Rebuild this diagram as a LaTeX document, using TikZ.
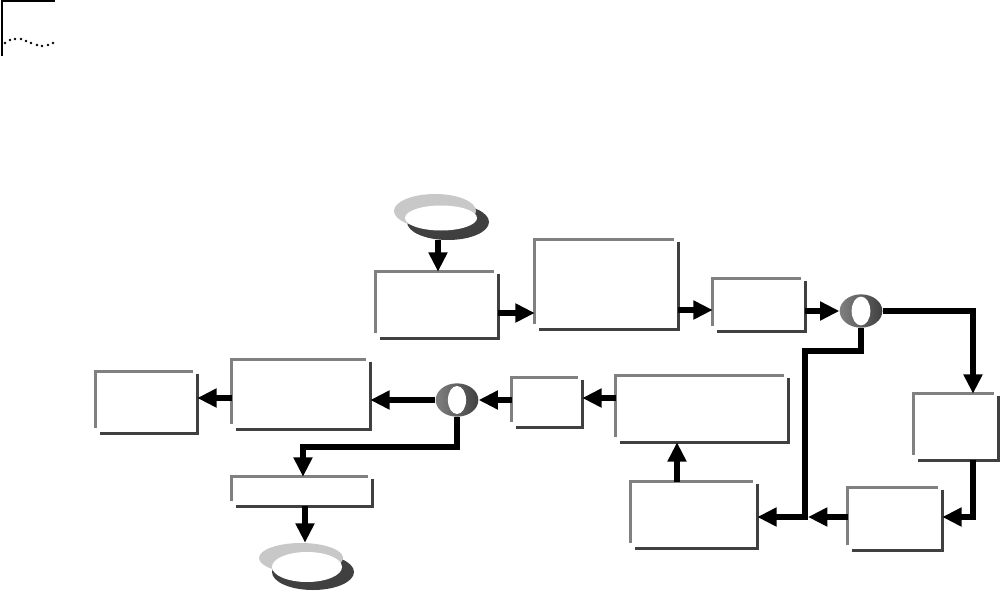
\documentclass[tikz,border=0pt]{standalone}
\usetikzlibrary{fit,arrows.meta,shapes.geometric}
\definecolor{edgegray}{HTML}{808080}
\definecolor{edgedark}{HTML}{404040}
\definecolor{termlight}{HTML}{C8C8C8}
\newcommand\shbox[5]{%
  \coordinate (#1-a) at (#2,#3);
  \coordinate (#1-b) at (#4,#5);
  \node[fit=(#1-a)(#1-b), inner sep=0pt, draw=none] (#1) {};
  \draw[edgeL] ([yshift=4pt]#1.south west) -- (#1.north west) -- ([xshift=-3pt]#1.north east);
  \draw[edgeD] ([yshift=-1.5pt]#1.north east) -- (#1.south east) -- ([xshift=3pt]#1.south west);
}
\begin{document}
\begin{tikzpicture}[x=0.75pt,y=-0.75pt,
  edgeL/.style={draw=edgegray,line width=2.5pt,line join=miter},
  edgeD/.style={draw=edgedark,line width=2.5pt,line join=miter},
  conn/.style={line width=4.3pt,line join=miter,-{Triangle[length=14.5pt,width=13.5pt]}},
  dec/.style={ellipse,minimum width=32pt,minimum height=25pt,inner sep=0pt,left color=edgegray,right color=edgedark,draw=none},
  termpart/.style={ellipse,inner sep=0pt,draw=none}]
\useasboundingbox (0,0) rectangle (1002,592);

% corner mark
\draw[line width=1.5pt] (2,56) -- (2,1) -- (55,1);
\foreach \x/\y in {5/43,10/40,15/39,21/39,26/41,31/43,37/45,42/46,48/45,53/43}
  \fill (\x,\y) circle[radius=1.1pt];

% start terminator
\node[termpart,fill=edgedark,minimum width=61.5pt,minimum height=27pt] (S-sh) at (448,222) {};
\node[termpart,fill=termlight,minimum width=61.5pt,minimum height=25.5pt] (S) at (435,211) {};
\node[termpart,fill=white,minimum width=54pt,minimum height=18.75pt] (S-in) at (441,218) {};

% end terminator
\node[termpart,fill=edgedark,minimum width=61.5pt,minimum height=27pt] (T-sh) at (313,572) {};
\node[termpart,fill=termlight,minimum width=63pt,minimum height=22.5pt] (T) at (301,558) {};
\node[termpart,fill=white,minimum width=52.5pt,minimum height=22.5pt] (T-in) at (307,567) {};

% boxes
\shbox{A}{376}{272}{498}{338}
\shbox{B}{535}{240}{678}{329}
\shbox{C}{713}{279}{805}{331}
\shbox{E}{914}{394}{998}{460}
\shbox{F}{848}{488}{942}{550}
\shbox{G}{631}{482}{757}{548}
\shbox{H}{616}{376}{788}{442}
\shbox{I}{512}{378}{582}{427}
\shbox{J}{232}{360}{370}{429}
\shbox{L}{96}{372}{197}{433}
\shbox{K}{232}{477}{372}{506}

% decisions
\node[dec] (D1) at (861,311) {};
\fill[white] (D1.center) ellipse[x radius=7pt, y radius=10.8pt];
\node[dec] (D2) at (457,400) {};
\fill[white] (D2.center) ellipse[x radius=6.8pt, y radius=10.5pt];

\coordinate (j1) at (805,351);
\coordinate (j2) at (808,517);
\coordinate (j3) at (303,447);

% connectors
\draw[conn] (S-sh.south -| 438,0) -- (A.north -| 438,0);
\draw[conn] (A.east |- 0,313) -- (B.west |- 0,313);
\draw[conn] (B.east |- 0,310) -- (C.west |- 0,310);
\draw[conn] (C.east |- D1.west) -- (D1.west);
\draw[conn] (D1.east) -| (E.north -| 973,0);
\draw[conn] (D1.south) |- (j1) |- (G.east |- 0,517);
\draw[conn] (E.south -| 973,0) |- (F.east |- 0,517);
\draw[conn] (F.west |- j2) -- (j2);
\draw[conn] (G.north -| 677,0) -- (H.south -| 677,0);
\draw[conn] (H.west |- 0,398) -- (I.east |- 0,398);
\draw[conn] (I.west |- D2.east) -- (D2.east);
\draw[conn] (D2.west) -- (J.east |- D2.west);
\draw[conn] (J.west |- 0,398) -- (L.east |- 0,398);
\draw[conn] (D2.south) |- (j3) -- (K.north -| j3);
\draw[conn] (K.south -| 305,0) -- (T.north -| 305,0);
\end{tikzpicture}
\end{document}
